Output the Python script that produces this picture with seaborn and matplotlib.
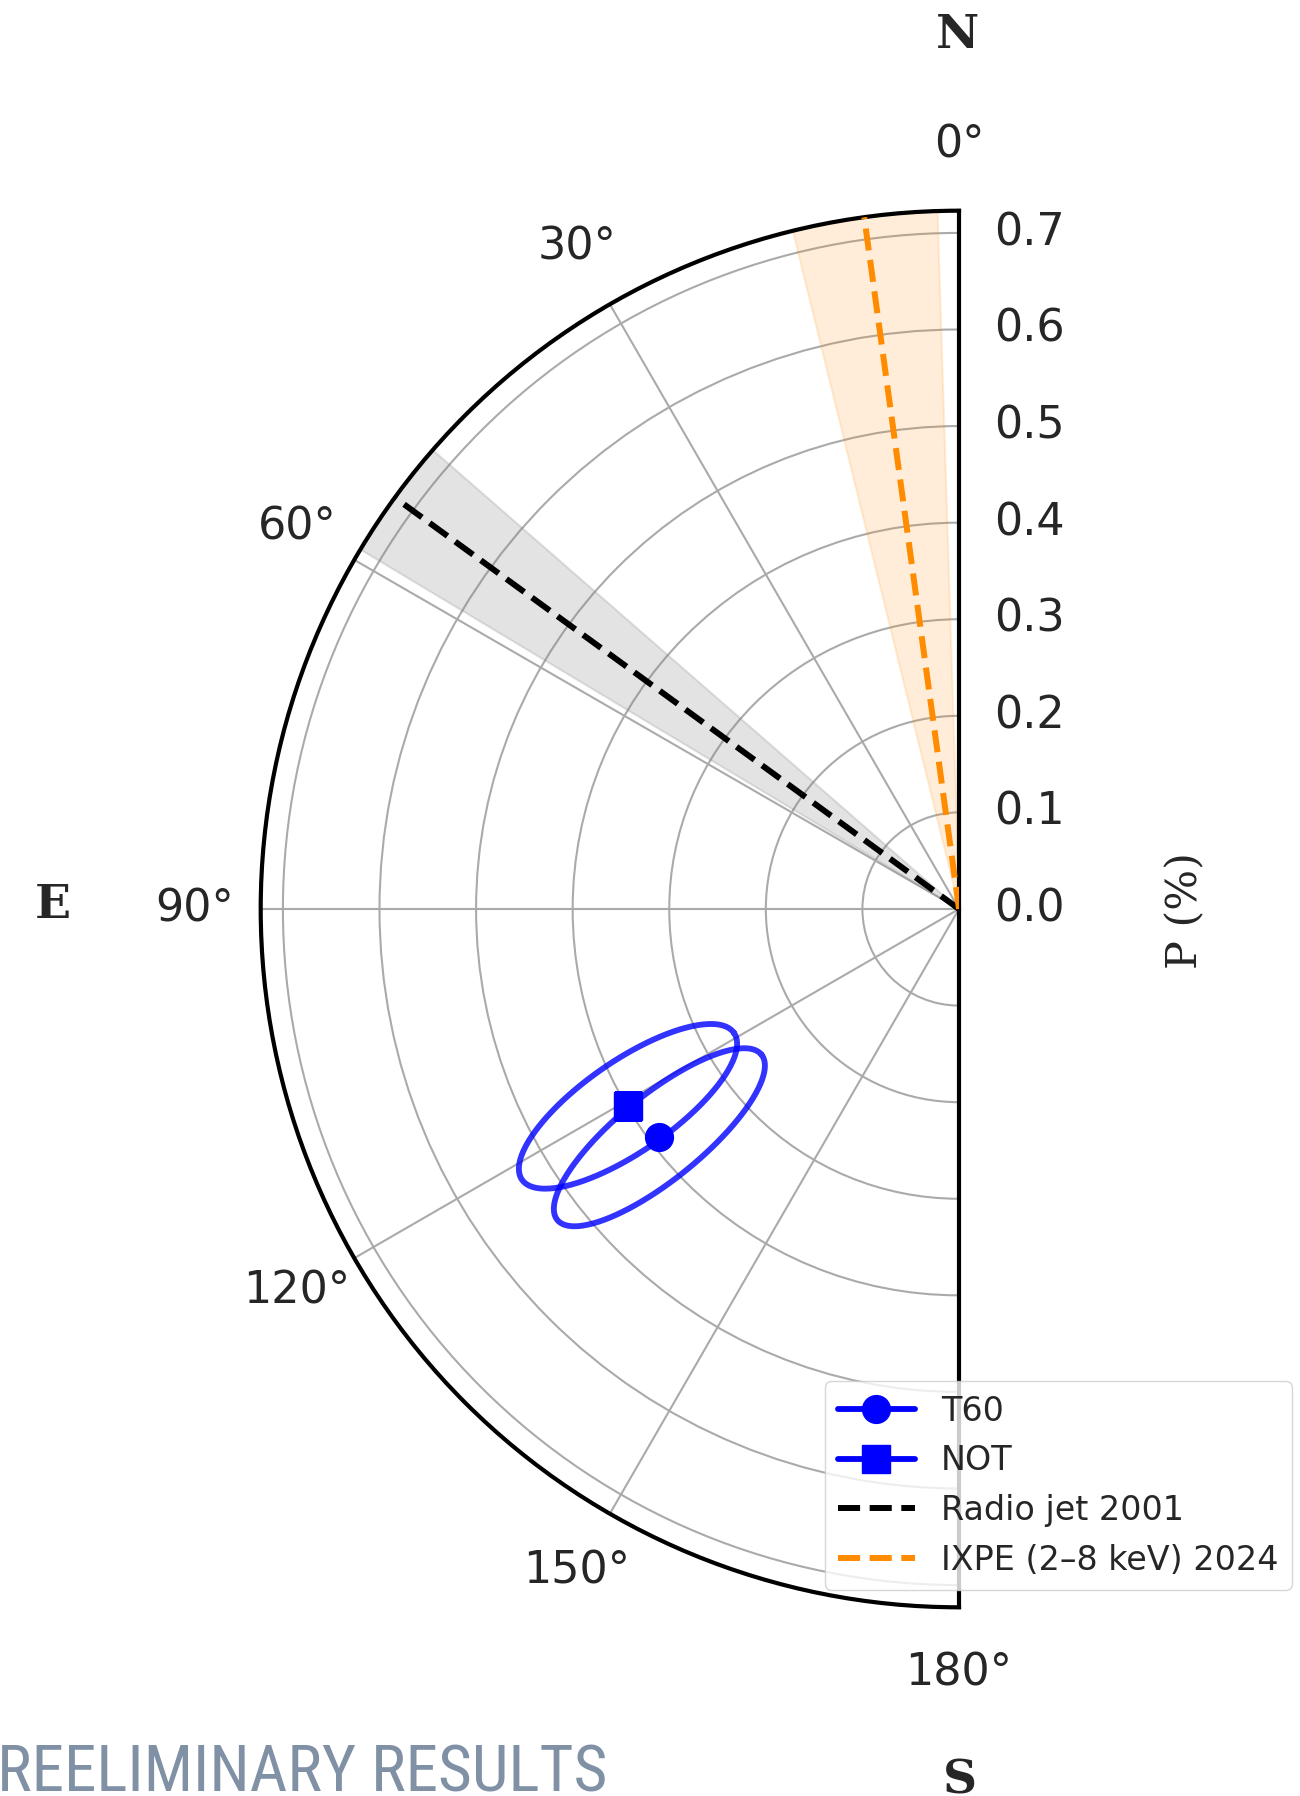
import numpy as np
import matplotlib
matplotlib.use("Agg")
import matplotlib.pyplot as plt
from matplotlib import font_manager
import seaborn as sns

# ---------------- data ----------------
obs_names = ["T60", "NOT"]
obs_markers = ["o", "s"]
obs_pa_deg = [127.3, 120.8]          # polarization angle (deg, E of N)
obs_p = [0.390, 0.399]               # polarization degree P (%)
ell_semi_major = [0.136, 0.1335]     # uncertainty ellipse semi-axes (P units)
ell_semi_minor = [0.044, 0.047]
ell_tilt_deg = [39.0, 34.7]          # ellipse tilt on the sky plane

radio_label = "Radio jet 2001"
radio_pa_deg = 53.9
radio_pa_range = [48.9, 59.0]

ixpe_label = "IXPE (2–8 keV) 2024"
ixpe_pa_deg = 7.8
ixpe_pa_range = [1.8, 13.8]

r_ticks = [0.0, 0.1, 0.2, 0.3, 0.4, 0.5, 0.6, 0.7]
r_max = 0.723
theta_ticks_deg = [0, 30, 60, 90, 120, 150, 180]
theta_tick_labels = ["0°", "30°", "60°", "90°", "120°", "150°", "180°"]

compass_labels = ["N", "E", "S"]
compass_px = [(958, 35), (53, 905), (960, 1780)]

# ---------------- style ----------------
sns.set_style("white")
plt.rcParams["font.family"] = ["DejaVu Sans"]

W, H = 1300, 1796
fig = plt.figure(figsize=(W / 100, H / 100), dpi=100)
# polar wedge: centre (959, 909) px, radius 698 px; the axes box is the full square
R, CX, CY = 698.3, 959.0, 909.0
ax = fig.add_axes([(CX - 1.5 * R) / W, (H - CY - R) / H, 2 * R / W, 2 * R / H],
                  projection="polar")
ax.set_theta_zero_location("N")
ax.set_theta_direction(1)
ax.set_thetamin(0)
ax.set_thetamax(180)
ax.set_ylim(0, r_max)

grid_c = "#aaaaaa"
ax.grid(True, color=grid_c, linewidth=1.5)
ax.set_yticks(r_ticks)
ax.set_yticklabels([f"{v:.1f}" for v in r_ticks])
ax.set_xticks(np.deg2rad(theta_ticks_deg))
ax.set_xticklabels(theta_tick_labels)
ax.tick_params(axis="x", labelsize=32, pad=40.5, length=0)
ax.tick_params(axis="y", labelsize=32, pad=25, length=0)
for sp in ax.spines.values():
    sp.set_color("black")
    sp.set_linewidth(3.0)

# ---------------- bands ----------------
th = np.deg2rad(np.linspace(radio_pa_range[0], radio_pa_range[1], 60))
ax.fill_between(th, 0, r_max, color="grey", alpha=0.22, linewidth=1.5, zorder=1)
th = np.deg2rad(np.linspace(ixpe_pa_range[0], ixpe_pa_range[1], 60))
ax.fill_between(th, 0, r_max, color="darkorange", alpha=0.15, linewidth=1.5, zorder=1)

# ---------------- dashed directions ----------------
ax.plot(np.deg2rad([radio_pa_deg, radio_pa_deg]), [0, r_max],
        color="black", linestyle="--", linewidth=4.3, label=radio_label, zorder=3)
ax.plot(np.deg2rad([ixpe_pa_deg, ixpe_pa_deg]), [0, r_max],
        color="darkorange", linestyle="--", linewidth=4.3, label=ixpe_label, zorder=3)

# ---------------- ellipses + points ----------------
t = np.linspace(0, 2 * np.pi, 300)
for pa, p, a, b, tilt in zip(obs_pa_deg, obs_p, ell_semi_major, ell_semi_minor, ell_tilt_deg):
    x0 = -p * np.sin(np.deg2rad(pa))
    y0 = p * np.cos(np.deg2rad(pa))
    ph = np.deg2rad(tilt)
    x = x0 + a * np.cos(t) * np.cos(ph) - b * np.sin(t) * np.sin(ph)
    y = y0 + a * np.cos(t) * np.sin(ph) + b * np.sin(t) * np.cos(ph)
    sns.lineplot(x=np.arctan2(-x, y), y=np.hypot(x, y), ax=ax, sort=False,
                 estimator=None, color="blue", linewidth=4.2, alpha=0.8, zorder=4)

for name, mk, pa, p in zip(obs_names, obs_markers, obs_pa_deg, obs_p):
    ax.plot([np.deg2rad(pa)], [p], marker=mk, ms=20, color="blue",
            linestyle="-", linewidth=4.2, label=name, zorder=5)

lh, ll = ax.get_legend_handles_labels()
lmap = dict(zip(ll, lh))
order = obs_names + [radio_label, ixpe_label]
if ax.get_legend() is not None:
    ax.get_legend().remove()
fig.legend([lmap[k] for k in order], order, loc="lower right",
           bbox_to_anchor=(1292 / W, 1 - 1590 / H), borderaxespad=0,
           handlelength=2.3, fontsize=24, frameon=True, framealpha=0.8,
           edgecolor="#cccccc")

# ---------------- texts ----------------
fig.text(1185.5 / W, 1 - 910.6 / H, "P (%)", rotation=90, family="DejaVu Serif",
         fontsize=31, ha="center", va="center")
for lab, (px, py) in zip(compass_labels, compass_px):
    fig.text(px / W, 1 - py / H, lab, family="DejaVu Serif", fontweight="bold",
             fontsize=34, ha="center", va="center")

narrow = None
for fam in ["Liberation Sans Narrow", "Roboto Condensed", "DejaVu Sans Condensed"]:
    try:
        font_manager.findfont(font_manager.FontProperties(family=fam), fallback_to_default=False)
        narrow = fam
        break
    except Exception:
        pass
fig.text(607 / W, 1 - 1792 / H, "PREELIMINARY RESULTS",
         family=[narrow] if narrow else ["Liberation Sans"],
         fontsize=47, color="#8091a5", ha="right", va="baseline")

fig.savefig("out.png", dpi=100)
